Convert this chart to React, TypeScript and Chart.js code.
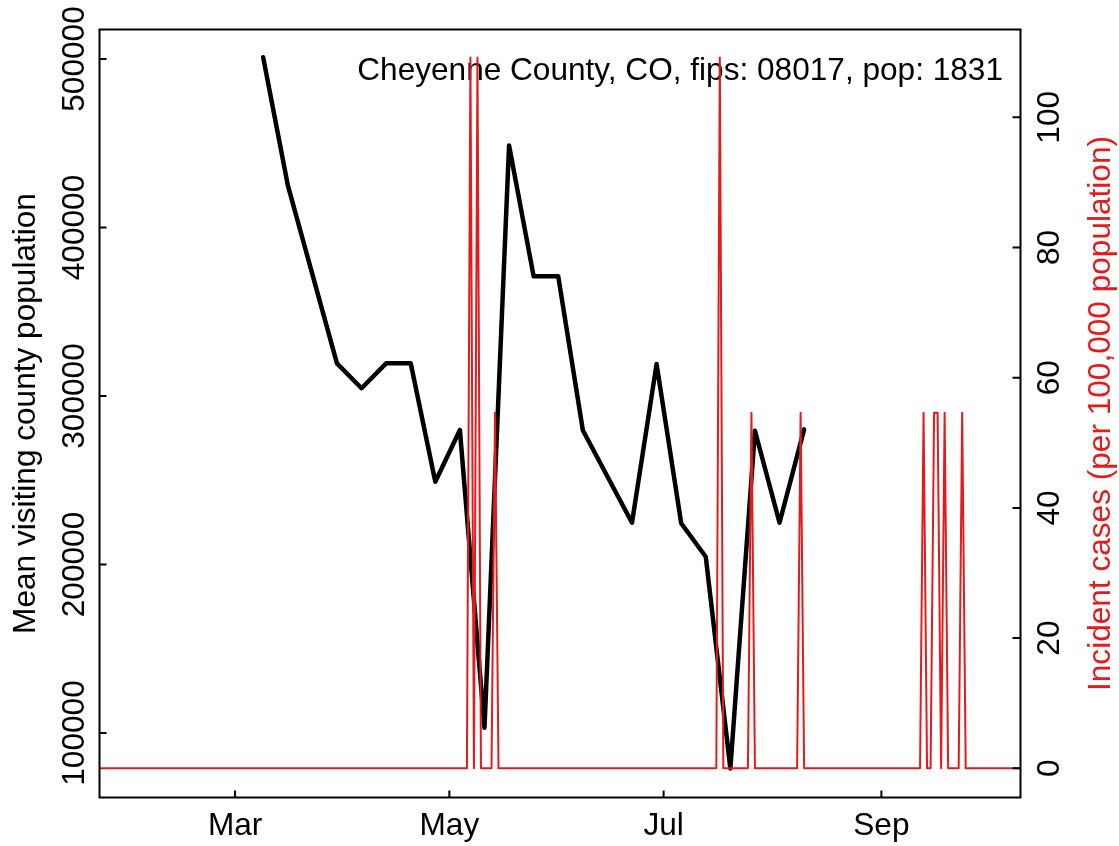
import React, { useEffect, useRef } from "react";
import { Chart, registerables } from "chart.js";

Chart.register(...registerables);

// ---- data (x values are day-of-year 2020) ----
const monthTickDays = [61, 122, 183, 245];
const monthTickLabels = ["Mar", "May", "Jul", "Sep"];

const visitDays = [69, 76, 90, 97, 104, 111, 118, 125, 132, 139, 146, 153, 160, 174, 181, 188, 195, 202, 209, 216, 223];
const visitValues = [501000, 425200, 319400, 304600, 319400, 319400, 249100, 279800, 103100, 448700, 371000, 371000, 279700, 224800, 319000, 224500, 204600, 79000, 279400, 224800, 280200];

const caseDays = [128, 130, 135, 199, 208, 222, 257, 260, 261, 263, 268];
const caseRates = [109.2, 109.2, 54.6, 109.2, 54.6, 54.6, 54.6, 54.6, 54.6, 54.6, 54.6];
const caseFirstDay = 22;
const caseLastDay = 286;

const leftTicks = [100000, 200000, 300000, 400000, 500000];
const rightTicks = [0, 20, 40, 60, 80, 100];

const titleText = "Cheyenne County, CO, fips: 08017, pop: 1831";
const leftTitle = "Mean visiting county population";
const rightTitle = "Incident cases (per 100,000 population)";

const RED = "#E41A1C";
const FONT = "'Liberation Sans', Arial, Helvetica, sans-serif";
const FS = 31.6;

function buildCaseSeries() {
  const pts: { x: number; y: number }[] = [];
  for (let d = caseFirstDay; d <= caseLastDay; d++) {
    const i = caseDays.indexOf(d);
    pts.push({ x: d, y: i >= 0 ? caseRates[i] : 0 });
  }
  return pts;
}

const decor = {
  id: "decor",
  beforeDatasetsDraw(chart: any) {
    const ctx = chart.ctx;
    ctx.save();
    ctx.font = `${FS}px ${FONT}`;
    ctx.fillStyle = "#000";
    ctx.textAlign = "right";
    ctx.textBaseline = "alphabetic";
    ctx.fillText(titleText, 1003, 80);
    ctx.restore();
  },
  afterDatasetsDraw(chart: any) {
    const { ctx, chartArea: a, scales } = chart;
    ctx.save();
    ctx.strokeStyle = "#000";
    ctx.lineWidth = 2;
    ctx.strokeRect(a.left, a.top, a.right - a.left, a.bottom - a.top);
    ctx.beginPath();
    monthTickDays.forEach((d) => {
      const px = scales.x.getPixelForValue(d);
      ctx.moveTo(px, a.bottom);
      ctx.lineTo(px, a.bottom - 7);
    });
    leftTicks.forEach((v) => {
      const py = scales.y.getPixelForValue(v);
      ctx.moveTo(a.left, py);
      ctx.lineTo(a.left + 7, py);
    });
    rightTicks.forEach((v) => {
      const py = scales.y2.getPixelForValue(v);
      ctx.moveTo(a.right, py);
      ctx.lineTo(a.right - 8, py);
    });
    ctx.stroke();

    ctx.font = `${FS}px ${FONT}`;
    ctx.fillStyle = "#000";
    ctx.textBaseline = "alphabetic";
    ctx.textAlign = "center";
    monthTickDays.forEach((d, i) => {
      ctx.fillText(monthTickLabels[i], scales.x.getPixelForValue(d), 835);
    });
    const rot = (x: number, y: number, text: string, color: string) => {
      ctx.save();
      ctx.translate(x, y);
      ctx.rotate(-Math.PI / 2);
      ctx.fillStyle = color;
      ctx.textAlign = "center";
      ctx.fillText(text, 0, 0);
      ctx.restore();
    };
    leftTicks.forEach((v) => rot(83.5, scales.y.getPixelForValue(v), String(v), "#000"));
    rightTicks.forEach((v) => rot(1058.5, scales.y2.getPixelForValue(v), String(v), "#000"));
    const midY = (a.top + a.bottom) / 2;
    rot(35, midY, leftTitle, "#000");
    rot(1110, midY, rightTitle, RED);
    ctx.restore();
  },
};

export default function App() {
  const ref = useRef<HTMLCanvasElement | null>(null);
  useEffect(() => {
    if (!ref.current) return;
    const visitPoints = visitDays.map((d, i) => ({ x: d, y: visitValues[i] }));
    const casePoints = buildCaseSeries();
    const chart = new Chart(ref.current, {
      type: "line",
      data: {
        datasets: [
          {
            label: "cases",
            data: casePoints,
            borderColor: RED,
            borderWidth: 2,
            pointRadius: 0,
            yAxisID: "y2",
            order: 0,
            borderJoinStyle: "round",
            borderCapStyle: "round",
            tension: 0,
          },
          {
            label: "visits",
            data: visitPoints,
            borderColor: "#000",
            borderWidth: 4.5,
            pointRadius: 0,
            yAxisID: "y",
            order: 1,
            borderJoinStyle: "round",
            borderCapStyle: "round",
            tension: 0,
          },
        ],
      },
      options: {
        responsive: false,
        animation: false,
        devicePixelRatio: 1,
        layout: { padding: { top: 29.5, left: 0, right: 0, bottom: 0 } },
        plugins: {
          legend: { display: false },
          tooltip: { enabled: false },
          title: { display: false },
        },
        scales: {
          x: {
            type: "linear",
            min: 22.4,
            max: 284.6,
            grid: { display: false },
            border: { display: false },
            ticks: { display: false },
            afterFit: (s: any) => {
              s.height = 846 - 797.5;
            },
          },
          y: {
            type: "linear",
            position: "left",
            min: 61721,
            max: 517507,
            grid: { display: false },
            border: { display: false },
            ticks: { display: false },
            afterFit: (s: any) => {
              s.width = 99.5;
            },
          },
          y2: {
            type: "linear",
            position: "right",
            min: -4.485,
            max: 113.49,
            grid: { display: false },
            border: { display: false },
            ticks: { display: false },
            afterFit: (s: any) => {
              s.width = 1119 - 1020.5;
            },
          },
        },
      } as any,
      plugins: [decor],
    });
    return () => chart.destroy();
  }, []);
  return (
    <div style={{ position: "fixed", left: 0, top: 0, width: 1119, height: 846, background: "#fff" }}>
      <canvas ref={ref} width={1119} height={846} style={{ display: "block" }} />
    </div>
  );
}
